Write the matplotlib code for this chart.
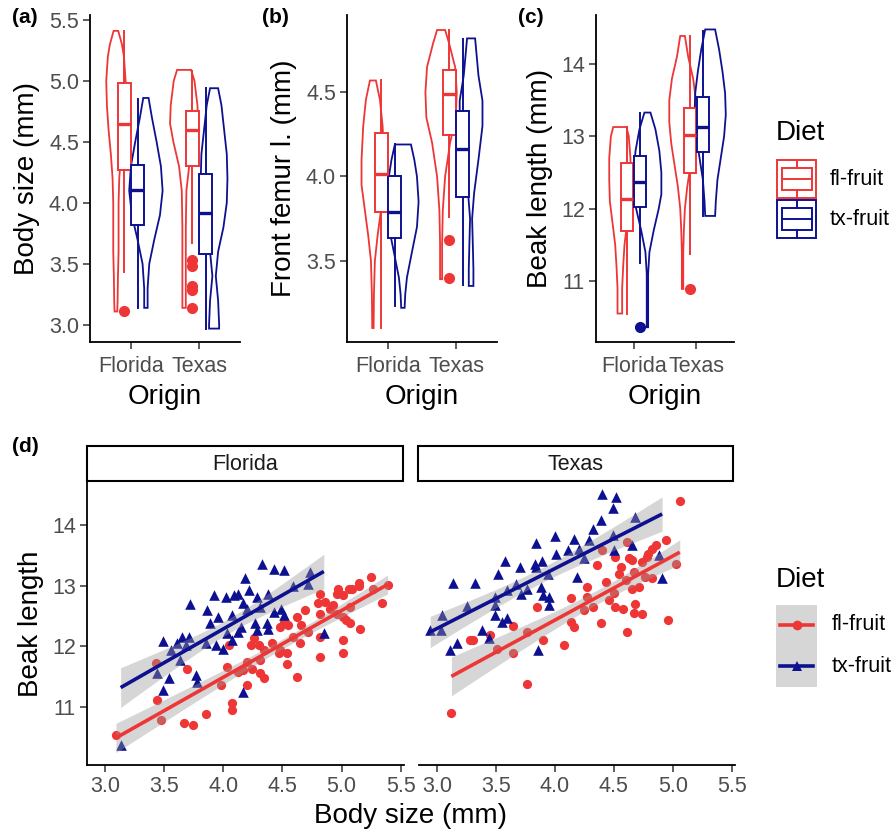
import matplotlib
matplotlib.use("Agg")
import matplotlib.pyplot as plt
from matplotlib.patches import Rectangle
import numpy as np

plt.rcParams['font.family'] = ['Liberation Sans', 'DejaVu Sans']

RED = '#EE3636'
BLUE = '#0D1190'
TXT_GREY = '#4D4D4D'

origins = ['Florida', 'Texas']
diets = ['fl-fruit', 'tx-fruit']

# ---- panels (a)-(c): boxplot stats, group order FL/fl, FL/tx, TX/fl, TX/tx
body_q1 = [4.27, 3.82, 4.30, 3.58]
body_med = [4.645, 4.107, 4.598, 3.92]
body_q3 = [4.986, 4.31, 4.75, 4.238]
body_lo = [3.437, 3.14, 3.67, 2.97]
body_hi = [5.41, 4.85, 5.08, 4.94]
body_out = [[3.11], [], [3.53, 3.48, 3.32, 3.29, 3.14], []]

femur_q1 = [3.792, 3.634, 4.248, 3.881]
femur_med = [4.016, 3.79, 4.491, 4.164]
femur_q3 = [4.261, 4.0, 4.634, 4.386]
femur_lo = [3.10, 3.232, 3.762, 3.357]
femur_hi = [4.574, 4.19, 4.867, 4.816]
femur_out = [[], [], [3.624, 3.397], []]

beak_q1 = [11.694, 12.02, 12.5, 12.78]
beak_med = [12.137, 12.376, 13.02, 13.13]
beak_q3 = [12.63, 12.73, 13.39, 13.54]
beak_lo = [10.55, 11.25, 11.376, 11.9]
beak_hi = [13.13, 13.32, 14.39, 14.46]
beak_out = [[], [10.36], [10.89], []]

# violin outlines: levels and relative density (half width)
body_vy = [[5.41, 5.3, 5.2, 5.0, 4.8, 4.6, 4.4, 4.2, 4.0, 3.8, 3.6, 3.4, 3.2, 3.11],
           [4.86, 4.7, 4.5, 4.3, 4.1, 3.9, 3.7, 3.5, 3.3, 3.14],
           [5.09, 5.0, 4.8, 4.65, 4.5, 4.3, 4.1, 3.8, 3.5, 3.14],
           [4.94, 4.8, 4.6, 4.4, 4.2, 4.0, 3.8, 3.6, 3.4, 3.2, 3.0, 2.97]]
body_vd = [[0.034, 0.088, 0.118, 0.142, 0.132, 0.108, 0.074, 0.049, 0.039, 0.039, 0.039, 0.03, 0.025, 0.02],
           [0.039, 0.088, 0.157, 0.22, 0.245, 0.206, 0.123, 0.049, 0.025, 0.025],
           [0.103, 0.152, 0.196, 0.206, 0.157, 0.074, 0.034, 0.025, 0.025, 0.025],
           [0.059, 0.108, 0.147, 0.186, 0.196, 0.186, 0.137, 0.059, 0.025, 0.059, 0.074, 0.074]]

femur_vy = [[4.57, 4.455, 4.3, 4.1, 3.95, 3.8, 3.65, 3.5, 3.3, 3.10],
            [4.19, 4.1, 4.0, 3.85, 3.7, 3.55, 3.4, 3.3, 3.22],
            [4.87, 4.79, 4.65, 4.5, 4.35, 4.2, 4.0, 3.8, 3.6, 3.39],
            [4.82, 4.6, 4.45, 4.3, 4.1, 3.9, 3.75, 3.6, 3.45, 3.35]]
femur_vd = [[0.044, 0.103, 0.142, 0.167, 0.167, 0.118, 0.069, 0.029, 0.015, 0.01],
            [0.118, 0.167, 0.206, 0.23, 0.206, 0.132, 0.059, 0.034, 0.025],
            [0.059, 0.118, 0.206, 0.23, 0.216, 0.132, 0.059, 0.025, 0.015, 0.015],
            [0.059, 0.108, 0.167, 0.167, 0.108, 0.044, 0.015, 0.025, 0.034, 0.034]]

beak_vy = [[13.13, 13.0, 12.7, 12.4, 12.1, 11.8, 11.5, 11.2, 10.9, 10.55],
           [13.33, 13.1, 12.8, 12.5, 12.2, 12.0, 11.7, 11.4, 11.1, 10.8, 10.36],
           [14.39, 14.1, 13.8, 13.5, 13.2, 12.9, 12.6, 12.3, 12.0, 11.7, 11.4, 11.1, 10.89],
           [14.48, 14.2, 13.9, 13.6, 13.3, 13.0, 12.7, 12.4, 12.1, 11.9]]
beak_vd = [[0.106, 0.143, 0.169, 0.169, 0.159, 0.116, 0.074, 0.053, 0.037, 0.037],
           [0.048, 0.127, 0.19, 0.222, 0.222, 0.18, 0.1, 0.032, 0.011, 0.011, 0.011],
           [0.037, 0.09, 0.169, 0.212, 0.212, 0.18, 0.127, 0.074, 0.037, 0.021, 0.011, 0.011, 0.011],
           [0.079, 0.143, 0.196, 0.238, 0.249, 0.222, 0.169, 0.116, 0.09, 0.079]]

# ---- panel (d): body size vs beak length per origin and diet
flo_fl_body = [5.253, 5.15, 5.15, 5.06, 5.085, 4.97, 4.96, 5.01, 4.82, 5.27, 5.39, 5.34, 5.07, 4.93, 4.86,
               4.80, 4.90, 4.82, 4.96, 5.01, 5.04, 5.07, 5.155, 4.69, 4.62, 4.515, 4.55, 4.48, 4.66, 4.72,
               4.82, 5.01, 4.65, 4.59, 4.26, 4.23, 4.30, 4.34, 4.41, 4.48, 4.54, 4.31, 4.47, 4.54, 4.20,
               4.17, 4.24, 4.31, 4.34, 4.12, 4.05, 4.03, 3.98, 4.20, 4.62, 4.82, 5.01, 4.075, 4.075, 3.85,
               3.67, 3.74, 3.69, 3.43, 3.44, 3.47, 3.09]
flo_fl_beak = [13.15, 13.05, 12.99, 12.94, 12.94, 12.95, 12.87, 12.84, 12.87, 12.95, 13.01, 12.72, 12.65,
               12.68, 12.73, 12.72, 12.62, 12.54, 12.53, 12.49, 12.43, 12.38, 12.28, 12.60, 12.49, 12.40,
               12.35, 12.32, 12.35, 12.24, 12.16, 12.10, 12.06, 12.16, 12.13, 12.02, 12.02, 11.94, 12.06,
               11.94, 11.88, 11.77, 11.88, 11.71, 11.74, 11.61, 11.63, 11.55, 11.47, 11.58, 12.02, 11.66,
               11.36, 11.36, 11.50, 11.83, 11.89, 11.06, 10.94, 10.88, 10.74, 10.70, 11.63, 11.72, 11.11,
               10.79, 10.53]
flo_tx_body = [4.33, 4.425, 4.515, 4.73, 4.18, 4.59, 4.72, 3.92, 4.02, 4.09, 4.12, 4.22, 4.285, 4.38, 3.72,
               3.86, 3.95, 3.89, 4.075, 4.17, 4.20, 4.31, 4.425, 4.49, 4.515, 4.27, 4.37, 4.285, 4.38, 4.12,
               4.075, 4.00, 3.94, 3.49, 3.61, 3.65, 3.71, 3.555, 3.68, 3.85, 4.85, 3.44, 3.54, 3.63, 3.77,
               3.78, 3.485, 4.17, 3.13, 4.145, 4.03]
flo_tx_beak = [13.36, 13.28, 13.25, 13.23, 13.12, 12.99, 13.03, 12.84, 12.81, 12.84, 12.87, 12.93, 12.81,
               12.87, 12.70, 12.59, 12.49, 12.38, 12.51, 12.71, 12.62, 12.65, 12.57, 12.62, 12.51, 12.38,
               12.38, 12.27, 12.29, 12.24, 12.10, 11.96, 12.02, 12.09, 12.06, 12.16, 12.16, 11.94, 12.02,
               12.05, 12.21, 11.55, 11.47, 11.77, 11.52, 11.41, 11.28, 11.25, 10.37, 12.32, 12.21]
tex_fl_body = [5.06, 4.94, 5.03, 4.86, 4.82, 4.79, 4.74, 4.625, 4.65, 4.61, 4.51, 4.40, 4.36, 4.56, 4.54,
               4.60, 4.67, 4.71, 4.65, 4.765, 4.82, 4.78, 4.43, 4.50, 4.275, 4.275, 4.135, 4.32, 4.25, 4.51,
               4.58, 4.68, 4.675, 4.74, 4.96, 4.61, 4.39, 4.135, 4.16, 3.85, 3.645, 3.76, 3.45, 3.28, 3.30,
               3.90, 4.08, 3.645, 3.505, 3.76, 3.12, 4.46]
tex_fl_beak = [14.40, 13.76, 13.36, 13.67, 13.61, 13.53, 13.39, 13.45, 13.42, 13.72, 13.47, 13.58, 13.34,
               13.31, 13.20, 13.09, 13.23, 12.98, 12.95, 13.15, 13.12, 13.48, 13.06, 12.88, 12.98, 12.81,
               12.79, 12.65, 12.60, 12.65, 12.61, 12.70, 12.55, 12.53, 12.44, 12.23, 12.39, 12.40, 12.32,
               12.64, 12.33, 12.23, 12.18, 12.10, 12.11, 12.10, 12.02, 11.88, 11.96, 11.38, 10.89, 12.76]
tex_tx_body = [4.396, 4.52, 4.49, 4.39, 4.32, 4.68, 4.00, 4.16, 4.29, 3.835, 3.575, 3.70, 3.52, 3.83, 3.89,
               3.84, 4.01, 4.11, 4.205, 4.25, 4.49, 4.65, 4.50, 4.19, 3.94, 3.13, 3.32, 3.67, 3.59, 3.76,
               3.88, 3.90, 3.95, 3.95, 3.49, 3.49, 3.25, 3.04, 3.49, 3.59, 3.55, 3.38, 3.44, 2.94, 3.03,
               3.17, 3.11, 3.855, 4.91, 4.88, 3.715]
tex_tx_beak = [14.51, 14.46, 14.28, 14.08, 13.93, 14.14, 13.82, 13.77, 13.75, 13.71, 13.41, 13.30, 13.20,
               13.36, 13.41, 13.31, 13.52, 13.58, 13.61, 13.45, 13.83, 13.67, 13.59, 13.15, 13.20, 13.05,
               13.05, 13.03, 12.92, 12.95, 12.98, 12.84, 12.82, 12.68, 12.82, 12.68, 12.66, 12.51, 12.51,
               12.46, 12.40, 12.27, 12.13, 12.27, 12.27, 12.05, 11.94, 11.93, 13.12, 13.50, 12.87]

W, H = 896, 834
fig = plt.figure(figsize=(W / 100, H / 100), dpi=100)


def px_axes(x0, y0, x1, y1):
    return fig.add_axes([x0 / W, 1 - y1 / H, (x1 - x0) / W, (y1 - y0) / H])


def style(ax, xpad=5):
    for s in ['top', 'right']:
        ax.spines[s].set_visible(False)
    for s in ['left', 'bottom']:
        ax.spines[s].set_linewidth(1.3)
    ax.tick_params(direction='out', length=5, width=1.1, color='#333333',
                   labelsize=15.5, labelcolor=TXT_GREY, pad=3)
    ax.tick_params(axis='x', pad=xpad)


def box_panel(ax, q1, med, q3, lo, hi, out, vy, vd, ylim, yticks, ylabel):
    for i in range(4):
        pos = 1 + i // 2
        col = RED if i % 2 == 0 else BLUE
        side = -1 if i % 2 == 0 else 1
        cx = pos + side * 0.22
        y = np.asarray(vy[i])
        w = np.asarray(vd[i])
        ax.fill(np.r_[cx - w, (cx + w)[::-1]], np.r_[y, y[::-1]],
                fc='none', ec=col, lw=1.3, zorder=2)
        stats = [dict(q1=q1[i], med=med[i], q3=q3[i], whislo=lo[i], whishi=hi[i], fliers=out[i])]
        ax.bxp(stats, positions=[pos + side * 0.1], widths=0.19, patch_artist=True,
               showcaps=False, manage_ticks=False, zorder=3,
               boxprops=dict(facecolor='white', edgecolor=col, lw=1.4),
               medianprops=dict(color=col, lw=2.4, solid_capstyle='butt'),
               whiskerprops=dict(color=col, lw=1.4),
               flierprops=dict(marker='o', mfc=col, mec=col, ms=7))
    ax.set_xlim(0.4, 2.6)
    ax.set_xticks([1, 2])
    ax.set_xticklabels(origins)
    ax.set_ylim(*ylim)
    ax.set_yticks(yticks)
    ax.set_yticklabels([f'{t:g}' if ylim[1] > 10 else f'{t:.1f}' for t in yticks])
    ax.set_ylabel(ylabel, fontsize=20, labelpad=6)
    ax.set_xlabel('Origin', fontsize=20, labelpad=5)
    style(ax)


ax_a = px_axes(90, 15, 240, 342)
box_panel(ax_a, body_q1, body_med, body_q3, body_lo, body_hi, body_out, body_vy, body_vd,
          (2.86, 5.54), [3.0, 3.5, 4.0, 4.5, 5.0, 5.5], 'Body size (mm)')
ax_b = px_axes(347, 15, 497, 342)
box_panel(ax_b, femur_q1, femur_med, femur_q3, femur_lo, femur_hi, femur_out, femur_vy, femur_vd,
          (3.017, 4.959), [3.5, 4.0, 4.5], 'Front femur l. (mm)')
ax_c = px_axes(596, 15, 734, 342)
box_panel(ax_c, beak_q1, beak_med, beak_q3, beak_lo, beak_hi, beak_out, beak_vy, beak_vd,
          (10.156, 14.68), [11, 12, 13, 14], 'Beak length (mm)')


def lm_band(x, y, t=2.0):
    # straight-line fit with ~95% confidence band (t for n-2 df ~ 2.0)
    x = np.asarray(x)
    y = np.asarray(y)
    b, a = np.polyfit(x, y, 1)
    xg = np.linspace(x.min(), x.max(), 80)
    fit = a + b * xg
    n = len(x)
    s = np.sqrt(np.sum((y - (a + b * x)) ** 2) / (n - 2))
    se = s * np.sqrt(1 / n + (xg - x.mean()) ** 2 / np.sum((x - x.mean()) ** 2))
    return xg, fit, fit - t * se, fit + t * se


def scatter_panel(ax, fl_x, fl_y, tx_x, tx_y, first):
    ax.scatter(fl_x, fl_y, s=44, c=RED, marker='o', lw=0, zorder=2)
    ax.scatter(tx_x, tx_y, s=58, c=BLUE, marker='^', lw=0, zorder=2)
    for x, y, col in [(fl_x, fl_y, RED), (tx_x, tx_y, BLUE)]:
        xg, fit, lo, hi = lm_band(x, y)
        ax.fill_between(xg, lo, hi, color='#999999', alpha=0.4, lw=0, zorder=3)
        ax.plot(xg, fit, color=col, lw=2.6, zorder=4, solid_capstyle='butt')
    ax.set_xlim(2.845, 5.529)
    ax.set_ylim(10.04, 14.71)
    ax.set_xticks([3.0, 3.5, 4.0, 4.5, 5.0, 5.5])
    ax.set_xticklabels(['3.0', '3.5', '4.0', '4.5', '5.0', '5.5'])
    ax.set_yticks([11, 12, 13, 14])
    style(ax, xpad=3)
    if not first:
        ax.spines['left'].set_visible(False)
        ax.tick_params(axis='y', left=False, labelleft=False)


ax_dl = px_axes(87, 482, 404, 765)
scatter_panel(ax_dl, flo_fl_body, flo_fl_beak, flo_tx_body, flo_tx_beak, True)
ax_dl.set_ylabel('Beak length', fontsize=20, labelpad=6)
ax_dr = px_axes(419, 482, 735, 765)
scatter_panel(ax_dr, tex_fl_body, tex_fl_beak, tex_tx_body, tex_tx_beak, False)

# overlay in pixel coordinates for strips, tags and legends
ov = fig.add_axes([0, 0, 1, 1])
ov.set_xlim(0, W)
ov.set_ylim(H, 0)
ov.axis('off')

ov.text(411, 816, 'Body size (mm)', fontsize=20, ha='center', va='center')

for (x0, x1), name in zip([(87, 403), (418, 733)], origins):
    ov.add_patch(Rectangle((x0, 446), x1 - x0, 35, fc='white', ec='black', lw=1.5))
    ov.text((x0 + x1) / 2, 464, name, fontsize=15.5, color='#1A1A1A', ha='center', va='center')

for tag, x, y in [('(a)', 12, 17), ('(b)', 262, 17), ('(c)', 518, 17), ('(d)', 12, 446)]:
    ov.text(x, y, tag, fontsize=15, fontweight='bold', ha='left', va='center')

# legend for violin / box panels
ov.text(776, 133, 'Diet', fontsize=20, ha='left', va='center')
for k, (col, lab) in enumerate(zip([RED, BLUE], diets)):
    y0 = 160 + 40 * k
    ov.add_patch(Rectangle((777, y0), 39, 38, fc='white', ec=col, lw=1.4))
    ov.add_patch(Rectangle((782, y0 + 8), 30, 22, fc='white', ec=col, lw=1.4))
    ov.plot([782, 812], [y0 + 19, y0 + 19], color=col, lw=1.4)
    ov.plot([797, 797], [y0, y0 + 8], color=col, lw=1.4)
    ov.plot([797, 797], [y0 + 30, y0 + 38], color=col, lw=1.4)
    ov.text(830, y0 + 19, lab, fontsize=15.5, ha='left', va='center')

# legend for scatter panels
ov.text(776, 580, 'Diet', fontsize=20, ha='left', va='center')
for k, (col, mk, lab) in enumerate(zip([RED, BLUE], ['o', '^'], diets)):
    y0 = 605 + 41 * k
    ov.add_patch(Rectangle((776, y0), 41, 41, fc='#D6D6D6', ec='none'))
    ov.plot([780, 813], [y0 + 20, y0 + 20], color=col, lw=2.6)
    ov.plot([796.5], [y0 + 20], marker=mk, color=col, ms=7, mew=0)
    ov.text(832, y0 + 20, lab, fontsize=15.5, ha='left', va='center')

fig.savefig('out.png', dpi=100)
